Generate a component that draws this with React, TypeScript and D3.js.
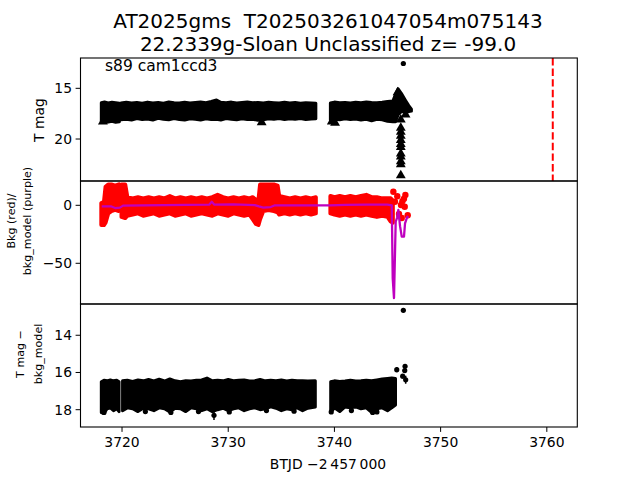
import React from 'react';
import * as d3 from 'd3';

type Band = [number, number, number][];
type Pt = [number, number];
type EPt = [number, number, number];

// ---------- axis definitions ----------
const X_DOMAIN: [number, number] = [3716.09, 3762.87];
const X_TICKS = [3720, 3730, 3740, 3750, 3760];
const TOP_DOMAIN: [number, number] = [12.01, 24.14];
const TOP_TICKS = [15, 20];
const MID_DOMAIN: [number, number] = [20.95, -85.1];
const MID_TICKS = [0, -50];
const BOT_DOMAIN: [number, number] = [12.32, 18.93];
const BOT_TICKS = [14, 16, 18];

const TITLE_1 = 'AT2025gms  T202503261047054m075143';
const TITLE_2 = '22.2339g-Sloan Unclassified z= -99.0';
const ANNOT = 's89 cam1ccd3';
const X_LABEL = 'BTJD \u22122\u2009457\u2009000';
const REF_LINE_T = 3760.56;

// ---------- top panel: T mag envelope (t, bright edge, faint edge) ----------
const topBand1a: Band = [
  [3718.05, 16.42, 18.30], [3718.35, 16.35, 18.38], [3718.7, 16.45, 18.32],
  [3719.05, 16.38, 18.25], [3719.4, 16.42, 18.35], [3719.75, 16.48, 18.30],
];
const topBand1b: Band = [
  [3719.9, 16.45, 18.1], [3720.4, 16.38, 18.05], [3720.9, 16.45, 18.12], [3721.4, 16.40, 17.98],
  [3721.9, 16.48, 18.08], [3722.4, 16.36, 18.02], [3722.9, 16.44, 18.12], [3723.4, 16.40, 17.95],
  [3723.9, 16.46, 18.05], [3724.4, 16.34, 18.10], [3724.9, 16.42, 17.98], [3725.4, 16.45, 18.08],
  [3725.9, 16.38, 18.12], [3726.4, 16.44, 18.0], [3726.9, 16.40, 18.05], [3727.4, 16.36, 18.12],
  [3727.9, 16.42, 18.0], [3728.4, 16.30, 18.08], [3728.9, 16.15, 18.05], [3729.3, 16.38, 18.12],
  [3729.8, 16.42, 17.98], [3730.3, 16.36, 18.05], [3730.8, 16.44, 18.1], [3731.3, 16.40, 18.0],
  [3731.8, 16.35, 18.08], [3732.3, 16.42, 18.05], [3732.8, 16.40, 18.15], [3733.3, 16.44, 18.1],
  [3733.8, 16.38, 18.0], [3734.3, 16.42, 18.05], [3734.8, 16.45, 17.98], [3735.3, 16.38, 18.08],
  [3735.8, 16.44, 18.0], [3736.3, 16.40, 18.05], [3736.8, 16.46, 17.98], [3737.3, 16.42, 18.08],
  [3737.8, 16.44, 18.02], [3738.25, 16.48, 18.0],
];
const topBand2: Band = [
  [3739.62, 16.45, 18.15], [3740.0, 16.36, 18.05], [3740.5, 16.42, 18.1], [3741.0, 16.40, 18.0],
  [3741.5, 16.44, 18.08], [3742.0, 16.38, 18.02], [3742.5, 16.42, 18.12], [3743.0, 16.36, 18.05],
  [3743.5, 16.40, 18.2], [3744.0, 16.42, 18.05], [3744.5, 16.38, 18.1], [3745.0, 16.3, 18.25],
  [3745.5, 16.25, 18.3], [3745.75, 15.6, 18.3], [3746.0, 15.05, 17.6], [3746.3, 15.5, 17.3],
  [3746.7, 16.2, 17.3], [3747.0, 16.7, 17.3], [3747.25, 17.05, 17.25],
];
const topTriangles: Pt[] = [
  [3718.2, 18.3], [3733.15, 18.35], [3739.75, 18.3], [3740.06, 18.4], [3745.95, 15.4],
  [3746.25, 18.1], [3746.7, 17.6], [3746.25, 18.9], [3746.25, 19.3], [3746.25, 19.7],
  [3746.25, 20.1], [3746.25, 20.5], [3746.25, 20.8], [3746.25, 21.45], [3746.25, 21.75],
  [3746.25, 22.2], [3746.25, 22.5], [3746.25, 23.6],
];
const topDots: Pt[] = [[3746.49, 12.55]];

// ---------- middle panel: background (red) and bkg model (purple) ----------
const redBand1a: Band = [
  [3718.05, -17, 2], [3718.3, -17, 3], [3718.45, -15, 16], [3718.7, -7, 18],
  [3719.0, -5, 18], [3719.35, -4, 17], [3719.7, -5, 18],
];
const redBand1b: Band = [
  [3719.95, -10, 18], [3720.3, -11, 18], [3720.5, -9, 7], [3721.0, -8, 6], [3721.5, -7, 7],
  [3722.0, -9, 6], [3722.5, -8, 7], [3723.0, -7, 6], [3723.5, -9, 7], [3724.0, -8, 6],
  [3724.5, -7, 8], [3725.0, -9, 6], [3725.5, -8, 7], [3726.0, -7, 6], [3726.5, -9, 7],
  [3727.0, -8, 6], [3727.5, -7, 7], [3728.0, -8, 6], [3728.5, -9, 7], [3729.0, -7, 9],
  [3729.5, -8, 7], [3730.0, -9, 6], [3730.5, -7, 7], [3731.0, -8, 6], [3731.5, -9, 7],
  [3732.0, -8, 6], [3732.3, -12, 7], [3732.6, -16, 5], [3732.85, -17, 5], [3733.0, -12, 18],
  [3733.3, -5, 18], [3733.8, -4, 18], [3734.3, -5, 18], [3734.65, -6, 17], [3734.8, -8, 8],
  [3735.3, -7, 7], [3735.8, -8, 6], [3736.3, -7, 7], [3736.8, -8, 6], [3737.3, -7, 7],
  [3737.8, -8, 6], [3738.25, -7, 7],
];
const redBand2: Band = [
  [3739.62, -7, 8], [3740.0, -8, 7], [3740.5, -9, 8], [3741.0, -8, 7], [3741.5, -9, 8],
  [3742.0, -8, 7], [3742.5, -9, 8], [3743.0, -8, 9], [3743.5, -9, 7], [3744.0, -10, 7],
  [3744.5, -9, 6], [3745.0, -10, 6], [3745.3, -14, 6], [3745.5, -15, 4],
];
const redDots: Pt[] = [
  [3745.55, 11.7], [3745.92, 7.8], [3746.68, 8.9], [3746.55, 5.7], [3746.27, 0.3],
  [3746.62, -1.2], [3746.9, -8.6], [3746.08, -7.5], [3746.34, -11], [3745.7, 3], [3746.4, 3.5],
];
const bkgModel: Pt[] = [
  [3718.09, -1], [3719.0, -1], [3719.4, -2.5], [3719.8, -2], [3720.1, -0.3], [3722, 0],
  [3724, 0.2], [3726, 0.3], [3728.2, 0.5], [3728.45, 3], [3728.7, 0.5], [3730.5, 0.8],
  [3732.5, 0.2], [3732.9, -1], [3733.3, -2], [3734.0, -1.5], [3734.4, 0], [3736, 0],
  [3738.25, 0], [3739.62, 0], [3741, 0.3], [3743, 0.5], [3745, 0.5], [3745.40, 0],
  [3745.49, -63], [3745.61, -80], [3745.77, -14], [3745.89, -11], [3746.02, -4],
  [3746.18, -18], [3746.34, -27], [3746.55, -27], [3746.65, -15.5], [3746.86, -9.8],
  [3746.96, -11],
];

// ---------- bottom panel: T mag - bkg_model ----------
const botBand1a: Band = [
  [3718.05, 16.50, 18.15], [3718.3, 16.42, 18.2], [3718.6, 16.45, 17.95], [3718.9, 16.40, 17.9],
  [3719.2, 16.45, 18.05], [3719.5, 16.42, 17.95], [3719.72, 16.50, 18.1],
];
const botBand1b: Band = [
  [3720.05, 16.45, 18.05], [3720.5, 16.42, 17.9], [3721.0, 16.48, 17.95], [3721.5, 16.40, 18.1],
  [3722.0, 16.45, 17.92], [3722.5, 16.38, 17.95], [3723.0, 16.45, 18.05], [3723.5, 16.36, 17.9],
  [3724.0, 16.46, 17.95], [3724.5, 16.35, 18.12], [3725.0, 16.45, 17.92], [3725.5, 16.50, 17.95],
  [3726.0, 16.44, 18.1], [3726.5, 16.46, 17.9], [3727.0, 16.42, 17.95], [3727.5, 16.40, 18.05],
  [3728.0, 16.30, 17.95], [3728.5, 16.45, 18.1], [3729.0, 16.42, 18.0], [3729.5, 16.45, 17.92],
  [3730.0, 16.38, 18.05], [3730.5, 16.44, 17.95], [3731.0, 16.42, 17.9], [3731.5, 16.40, 18.05],
  [3732.0, 16.46, 17.95], [3732.5, 16.44, 17.9], [3733.0, 16.38, 18.0], [3733.5, 16.45, 17.95],
  [3734.0, 16.42, 17.85], [3734.5, 16.44, 17.92], [3735.0, 16.40, 18.05], [3735.5, 16.46, 17.95],
  [3736.0, 16.42, 18.0], [3736.5, 16.45, 17.9], [3737.0, 16.44, 18.05], [3737.5, 16.46, 17.92],
  [3738.2, 16.45, 17.85],
];
const botBand2: Band = [
  [3739.65, 16.50, 18.15], [3740.0, 16.45, 17.9], [3740.5, 16.48, 18.1], [3741.0, 16.46, 17.85],
  [3741.5, 16.42, 17.9], [3742.0, 16.46, 17.85], [3742.5, 16.45, 17.95], [3743.0, 16.42, 17.9],
  [3743.5, 16.45, 18.15], [3744.0, 16.40, 17.95], [3744.5, 16.35, 17.9], [3745.0, 16.32, 18.05],
  [3745.4, 16.30, 17.9], [3745.75, 16.32, 17.75],
];
const botPoints: EPt[] = [
  [3718.3, 18.15, 0.1], [3722.2, 18.1, 0.1], [3724.6, 18.15, 0.08], [3727.2, 18.1, 0.08],
  [3728.66, 18.3, 0.25], [3730.1, 18.12, 0.08], [3733.6, 18.05, 0.08], [3736.2, 18.08, 0.08],
  [3739.7, 18.12, 0.08], [3741.6, 18.05, 0.08], [3743.6, 18.15, 0.08], [3744.0, 18.12, 0.08],
  [3745.87, 15.85, 0.14], [3746.65, 15.67, 0.1], [3746.62, 15.9, 0.1], [3746.43, 16.2, 0.12],
  [3746.71, 16.39, 0.22], [3746.49, 12.66, 0.03],
];

// ---------- layout ----------
const XL = 80.5;
const XR = 577.3;
const TOP: [number, number] = [58, 181];
const MID: [number, number] = [181, 304];
const BOT: [number, number] = [304, 427];
const FONT = 'DejaVu Sans, Liberation Sans, sans-serif';

export default function App() {
  const x = d3.scaleLinear().domain(X_DOMAIN).range([XL, XR]);
  const yT = d3.scaleLinear().domain(TOP_DOMAIN).range(TOP);
  const yM = d3.scaleLinear().domain(MID_DOMAIN).range(MID);
  const yB = d3.scaleLinear().domain(BOT_DOMAIN).range(BOT);

  const areaFor = (y: d3.ScaleLinear<number, number>) =>
    d3.area<[number, number, number]>()
      .x((d) => x(d[0]))
      .y0((d) => y(d[1]))
      .y1((d) => y(d[2]));

  const aT = areaFor(yT);
  const aM = areaFor(yM);
  const aB = areaFor(yB);
  const line = d3.line<Pt>().x((d) => x(d[0])).y((d) => yM(d[1]));
  const tri = d3.symbol().type(d3.symbolTriangle).size(42)();

  const yTicks = (y: d3.ScaleLinear<number, number>, ticks: number[], key: string) =>
    ticks.map((t) => (
      <g key={key + t}>
        <line x1={XL - 4.9} x2={XL} y1={y(t)} y2={y(t)} stroke="black" strokeWidth={1} />
        <text x={XL - 8.5} y={y(t)} dy="0.36em" textAnchor="end" fontSize={13.9}>
          {t < 0 ? '\u2212' + Math.abs(t) : String(t)}
        </text>
      </g>
    ));

  const panelRect = (p: [number, number]) => (
    <rect x={XL} y={p[0]} width={XR - XL} height={p[1] - p[0]} fill="none" stroke="black" strokeWidth={1.1} />
  );

  return (
    <svg width={640} height={480} style={{ display: 'block', position: 'absolute', left: 0, top: 0 }} fontFamily={FONT}>
      <rect x={0} y={0} width={640} height={480} fill="white" />
      <defs>
        <clipPath id="cT"><rect x={XL} y={TOP[0]} width={XR - XL} height={TOP[1] - TOP[0]} /></clipPath>
        <clipPath id="cM"><rect x={XL} y={MID[0]} width={XR - XL} height={MID[1] - MID[0]} /></clipPath>
        <clipPath id="cB"><rect x={XL} y={BOT[0]} width={XR - XL} height={BOT[1] - BOT[0]} /></clipPath>
      </defs>

      {/* title */}
      <text x={328} y={28} textAnchor="middle" fontSize={20} style={{ whiteSpace: 'pre' }}>{TITLE_1}</text>
      <text x={328} y={51} textAnchor="middle" fontSize={20}>{TITLE_2}</text>

      {/* top panel */}
      <g clipPath="url(#cT)">
        {[topBand1a, topBand1b, topBand2].map((b, i) => (
          <path key={'tb' + i} d={aT(b) || ''} fill="black" stroke="black" strokeWidth={3} strokeLinejoin="round" />
        ))}
        {topTriangles.map((d, i) => (
          <path key={'tt' + i} d={tri || ''} transform={`translate(${x(d[0])},${yT(d[1])})`} fill="black" />
        ))}
        {topDots.map((d, i) => (
          <circle key={'td' + i} cx={x(d[0])} cy={yT(d[1])} r={2.6} fill="black" />
        ))}
        <line x1={x(REF_LINE_T)} x2={x(REF_LINE_T)} y1={TOP[0]} y2={TOP[1]} stroke="#ff0000" strokeWidth={2} strokeDasharray="7.4,3.2" />
      </g>
      <text x={105} y={71} fontSize={15.5}>{ANNOT}</text>

      {/* middle panel */}
      <g clipPath="url(#cM)">
        {[redBand1a, redBand1b, redBand2].map((b, i) => (
          <path key={'rb' + i} d={aM(b) || ''} fill="#ff0000" stroke="#ff0000" strokeWidth={4} strokeLinejoin="round" />
        ))}
        {redDots.map((d, i) => (
          <circle key={'rd' + i} cx={x(d[0])} cy={yM(d[1])} r={3.2} fill="#ff0000" />
        ))}
        <path d={line(bkgModel) || ''} fill="none" stroke="#bf00bf" strokeWidth={2.3} strokeLinejoin="round" />
      </g>

      {/* bottom panel */}
      <g clipPath="url(#cB)">
        {[botBand1a, botBand1b, botBand2].map((b, i) => (
          <path key={'bb' + i} d={aB(b) || ''} fill="black" stroke="black" strokeWidth={3} strokeLinejoin="round" />
        ))}
        {botPoints.map((d, i) => (
          <g key={'bp' + i}>
            <line x1={x(d[0])} x2={x(d[0])} y1={yB(d[1] - d[2])} y2={yB(d[1] + d[2])} stroke="black" strokeWidth={1.5} />
            <circle cx={x(d[0])} cy={yB(d[1])} r={2.6} fill="black" />
          </g>
        ))}
      </g>

      {panelRect(TOP)}
      {panelRect(MID)}
      {panelRect(BOT)}

      {yTicks(yT, TOP_TICKS, 't')}
      {yTicks(yM, MID_TICKS, 'm')}
      {yTicks(yB, BOT_TICKS, 'b')}

      {X_TICKS.map((t) => (
        <g key={'x' + t}>
          <line x1={x(t)} x2={x(t)} y1={BOT[1]} y2={BOT[1] + 4.9} stroke="black" strokeWidth={1} />
          <text x={x(t)} y={447} textAnchor="middle" fontSize={13.9}>{t}</text>
        </g>
      ))}
      <text x={328} y={469} textAnchor="middle" fontSize={13.9}>{X_LABEL}</text>

      {/* y labels */}
      <text transform={`translate(44,120) rotate(-90)`} textAnchor="middle" fontSize={13.9}>T mag</text>
      <text transform={`translate(15,221) rotate(-90)`} textAnchor="middle" fontSize={11.1}>Bkg (red)/</text>
      <text transform={`translate(31,221) rotate(-90)`} textAnchor="middle" fontSize={11.1}>bkg_model (purple)</text>
      <text transform={`translate(23.5,354) rotate(-90)`} textAnchor="middle" fontSize={11.1}>T mag {'\u2212'}</text>
      <text transform={`translate(41.5,354) rotate(-90)`} textAnchor="middle" fontSize={11.1}>bkg_model</text>
    </svg>
  );
}
